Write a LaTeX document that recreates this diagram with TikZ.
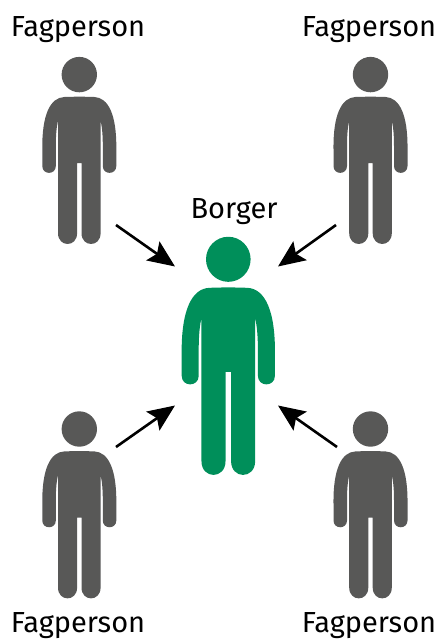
\documentclass[tikz,border=0pt]{standalone}
\usepackage{fontspec}
\setmainfont{Fira Sans}
\usetikzlibrary{arrows.meta}
\definecolor{figgrey}{HTML}{585857}
\definecolor{figgreen}{HTML}{008F5A}
\tikzset{
  lbl/.style={font=\fontsize{29}{34}\selectfont, text=black, inner sep=0pt, anchor=base},
  conn/.style={line width=2.6pt, black, -{Stealth[length=27pt,width=23pt,inset=5pt]}},
  person/.pic={
    \fill (0,0) circle (17.7);
    \fill (-15,22.4)
      .. controls (-3,22) and (3,22) .. (15,22.4)
      .. controls (29,23) and (37.5,40) .. (37,75)
      -- (37,91.5)
      .. controls (37,100.5) and (23.5,100.5) .. (23.5,91.5)
      -- (23.5,72)
      .. controls (23.5,62) and (23,54) .. (21.5,47)
      -- (21.3,47) -- (21.3,158.5)
      .. controls (21.3,173) and (2.2,173) .. (2.2,158.5)
      -- (2.2,88.5) -- (-2.2,88.5) -- (-2.2,158.5)
      .. controls (-2.2,173) and (-21.3,173) .. (-21.3,158.5)
      -- (-21.3,47) -- (-21.5,47)
      .. controls (-23,54) and (-23.5,62) .. (-23.5,72)
      -- (-23.5,91.5)
      .. controls (-23.5,100.5) and (-37,100.5) .. (-37,91.5)
      -- (-37,75)
      .. controls (-37.5,40) and (-29,23) .. (-15,22.4) -- cycle;
  }
}
\begin{document}
\begin{tikzpicture}[x=1pt,y=-1pt]
\useasboundingbox (0,0) rectangle (438,639);
\pic[figgrey] at (79.3,74.6) {person};
\pic[figgrey] at (370.5,74.6) {person};
\pic[figgrey] at (79.3,429) {person};
\pic[figgrey] at (370.5,429) {person};
\pic[figgreen, xscale=1.26, yscale=1.273] at (228.3,259.3) {person};
\node[lbl] (tl) at (78,37) {Fagperson};
\node[lbl] (tr) at (369,37) {Fagperson};
\node[lbl] (bl) at (78,632) {Fagperson};
\node[lbl] (br) at (369,632) {Fagperson};
\node[lbl] (c) at (234,218) {Borger};
\coordinate (a1) at (116,225); \coordinate (b1) at (175,266.5);
\coordinate (a2) at (336,225); \coordinate (b2) at (278,266.5);
\coordinate (a3) at (116,447); \coordinate (b3) at (175,405.5);
\coordinate (a4) at (337,447); \coordinate (b4) at (278,405.5);
\draw[conn] (a1) -- (b1);
\draw[conn] (a2) -- (b2);
\draw[conn] (a3) -- (b3);
\draw[conn] (a4) -- (b4);
\end{tikzpicture}
\end{document}
